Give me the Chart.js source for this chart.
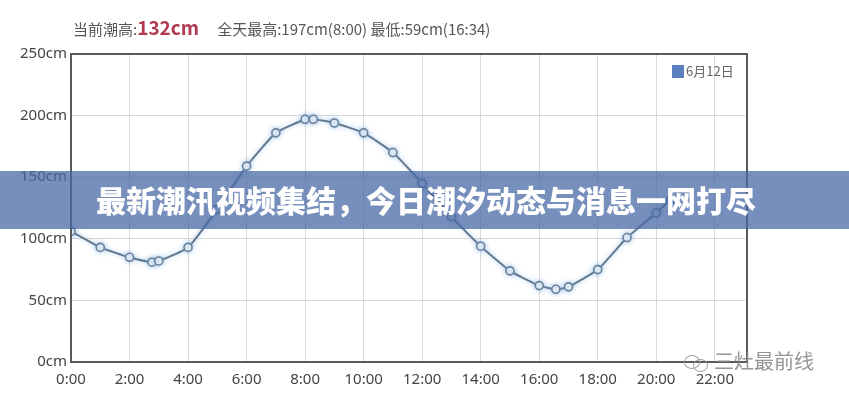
<!DOCTYPE html>
<html>
<head>
<meta charset="utf-8">
<script src="https://cdn.jsdelivr.net/npm/chart.js@4/dist/chart.umd.min.js"></script>
<style>
  html, body { margin: 0; padding: 0; background: #fff; }
  #wrap { position: relative; width: 849px; height: 400px; overflow: hidden; font-family: "Noto Sans CJK SC", "Noto Sans", sans-serif; }
  canvas { position: absolute; left: 0; top: 0; }
  #header { position: absolute; left: 73px; top: 13px; font-size: 15px; color: #555; white-space: nowrap; line-height: 28px; }
  #header .cur { font-size: 19px; font-weight: bold; color: #b23a50; margin-right: 18px; }
  #legend { position: absolute; left: 672px; top: 63px; font-size: 13px; color: #666; white-space: nowrap; line-height: 16px; }
  #legend .sw { display: inline-block; width: 12px; height: 13px; background: #5b7fbf; vertical-align: -2px; margin-right: 2px; }
  #banner { position: absolute; left: 0; top: 171px; width: 849px; height: 58px; background: rgba(72,104,164,0.74); }
  #banner span { position: absolute; left: 96px; top: 8px; font-size: 30px; font-weight: 900; color: #fff; white-space: nowrap; line-height: 40px; }
  #wm { position: absolute; left: 684px; top: 348px; color: #8a8a8a; font-size: 20px; white-space: nowrap; line-height: 26px; opacity: 0.9; }
  #wm .ic { display: inline-block; width: 26px; height: 18px; position: relative; vertical-align: -2px; margin-right: 4px; }
  #wm .ic i { position: absolute; border: 1.5px solid #999; border-radius: 50%; }
</style>
</head>
<body>
<div id="wrap">
  <canvas id="c" width="849" height="400"></canvas>
  <div id="header">当前潮高:<span class="cur">132cm</span>全天最高:197cm(8:00) 最低:59cm(16:34)</div>
  <div id="legend"><span class="sw"></span>6月12日</div>
  <div id="banner"><span>最新潮汛视频集结，今日潮汐动态与消息一网打尽</span></div>
  <div id="wm"><span class="ic"><i style="left:0;top:2px;width:14px;height:12px;"></i><i style="left:9px;top:6px;width:13px;height:11px;"></i></span>三灶最前线</div>
</div>
<script>
// ---- data ----
const seriesName = "6月12日";
const times = ["0:00","1:00","2:00","2:46","3:00","4:00","5:00","6:00","7:00","8:00","8:17","9:00","10:00","11:00","12:00","13:00","14:00","15:00","16:00","16:34","17:00","18:00","19:00","20:00","20:30"];
const tideCm = [106,93,85,81,82,93,124,159,186,197,197,194,186,170,145,118,94,74,62,59,61,75,101,121,132];
const yTicks = [0,50,100,150,200,250];
const xTickHours = [0,2,4,6,8,10,12,14,16,18,20,22];

function toHours(s){ const p = s.split(":"); return Number(p[0]) + Number(p[1])/60; }
const points = times.map((t,i)=>({x: toHours(t), y: tideCm[i]}));

const borderPlugin = {
  id: 'plotBorder',
  afterDraw(chart){
    const a = chart.chartArea, ctx = chart.ctx;
    ctx.save();
    ctx.strokeStyle = '#5a5a5a';
    ctx.lineWidth = 2;
    ctx.strokeRect(a.left, a.top, a.right - a.left, a.bottom - a.top);
    ctx.restore();
  }
};
const glowPlugin = {
  id: 'glow',
  beforeDatasetDraw(chart){ const ctx = chart.ctx; ctx.save(); ctx.shadowColor = 'rgba(110,160,225,0.55)'; ctx.shadowBlur = 5; },
  afterDatasetDraw(chart){ chart.ctx.restore(); }
};

new Chart(document.getElementById('c'), {
  type: 'line',
  data: {
    datasets: [{
      label: seriesName,
      data: points,
      borderColor: '#62798f',
      borderWidth: 2,
      pointRadius: 4,
      pointBorderWidth: 1.6,
      pointBorderColor: '#6a8298',
      pointBackgroundColor: '#eef3f8',
      tension: 0.15,
      fill: false
    }]
  },
  options: {
    responsive: false,
    devicePixelRatio: 1,
    animation: false,
    layout: { padding: { left: 0, right: 102, top: 54, bottom: 0 } },
    plugins: { legend: { display: false }, tooltip: { enabled: false } },
    scales: {
      x: {
        type: 'linear', min: 0, max: 23.1,
        afterBuildTicks(scale){ scale.ticks = xTickHours.map(v=>({value:v})); },
        afterFit(scale){ scale.height = 38; },
        grid: { color: '#d9d9d9', lineWidth: 1, drawTicks: false },
        border: { display: false },
        ticks: { padding: 9, color: '#444', font: { family: 'Noto Sans', size: 15 }, maxRotation: 0, autoSkip: false,
          callback: v => v + ':00' }
      },
      y: {
        min: 0, max: 250,
        afterBuildTicks(scale){ scale.ticks = yTicks.map(v=>({value:v})); },
        afterFit(scale){ scale.width = 71; },
        grid: { color: '#d9d9d9', lineWidth: 1, drawTicks: false },
        border: { display: false },
        ticks: { padding: 4, color: '#444', font: { family: 'Noto Sans', size: 15 }, callback: v => v + 'cm' }
      }
    }
  },
  plugins: [borderPlugin, glowPlugin]
});
</script>
</body>
</html>
